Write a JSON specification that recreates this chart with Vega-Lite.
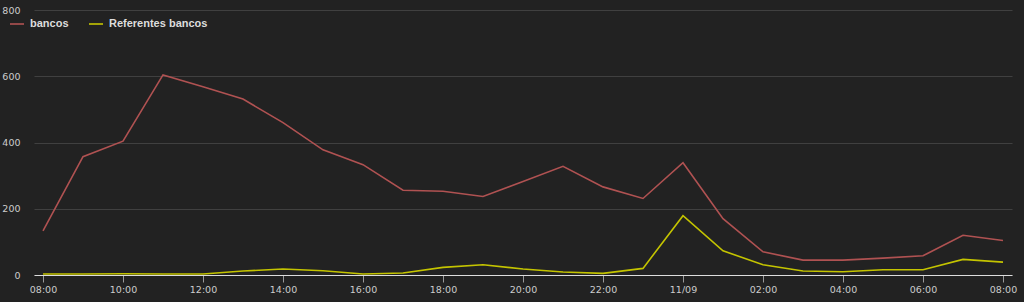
{
  "$schema": "https://vega.github.io/schema/vega-lite/v6.json",
  "width": 978,
  "height": 265,
  "autosize": {"type": "none"},
  "padding": {"left": 34, "top": 10, "right": 12, "bottom": 27},
  "background": "#222222",
  "config": {
    "view": {"stroke": null},
    "axis": {"labelFont": "DejaVu Sans", "labelFontSize": 9.5, "labelColor": "#cccccc"}
  },
  "data": {
    "values": [
      {"t": "2013-09-10T08:00:00Z", "s": "bancos", "v": 133},
      {"t": "2013-09-10T09:00:00Z", "s": "bancos", "v": 357},
      {"t": "2013-09-10T10:00:00Z", "s": "bancos", "v": 404},
      {"t": "2013-09-10T11:00:00Z", "s": "bancos", "v": 604},
      {"t": "2013-09-10T12:00:00Z", "s": "bancos", "v": 568},
      {"t": "2013-09-10T13:00:00Z", "s": "bancos", "v": 531},
      {"t": "2013-09-10T14:00:00Z", "s": "bancos", "v": 460},
      {"t": "2013-09-10T15:00:00Z", "s": "bancos", "v": 378},
      {"t": "2013-09-10T16:00:00Z", "s": "bancos", "v": 333},
      {"t": "2013-09-10T17:00:00Z", "s": "bancos", "v": 256},
      {"t": "2013-09-10T18:00:00Z", "s": "bancos", "v": 253},
      {"t": "2013-09-10T19:00:00Z", "s": "bancos", "v": 237},
      {"t": "2013-09-10T20:00:00Z", "s": "bancos", "v": 282},
      {"t": "2013-09-10T21:00:00Z", "s": "bancos", "v": 328},
      {"t": "2013-09-10T22:00:00Z", "s": "bancos", "v": 266},
      {"t": "2013-09-10T23:00:00Z", "s": "bancos", "v": 231},
      {"t": "2013-09-11T00:00:00Z", "s": "bancos", "v": 339},
      {"t": "2013-09-11T01:00:00Z", "s": "bancos", "v": 170},
      {"t": "2013-09-11T02:00:00Z", "s": "bancos", "v": 70},
      {"t": "2013-09-11T03:00:00Z", "s": "bancos", "v": 45},
      {"t": "2013-09-11T04:00:00Z", "s": "bancos", "v": 45},
      {"t": "2013-09-11T05:00:00Z", "s": "bancos", "v": 51},
      {"t": "2013-09-11T06:00:00Z", "s": "bancos", "v": 58},
      {"t": "2013-09-11T07:00:00Z", "s": "bancos", "v": 120},
      {"t": "2013-09-11T08:00:00Z", "s": "bancos", "v": 104},
      {"t": "2013-09-10T08:00:00Z", "s": "Referentes bancos", "v": 3},
      {"t": "2013-09-10T09:00:00Z", "s": "Referentes bancos", "v": 3},
      {"t": "2013-09-10T10:00:00Z", "s": "Referentes bancos", "v": 4},
      {"t": "2013-09-10T11:00:00Z", "s": "Referentes bancos", "v": 3},
      {"t": "2013-09-10T12:00:00Z", "s": "Referentes bancos", "v": 3},
      {"t": "2013-09-10T13:00:00Z", "s": "Referentes bancos", "v": 12},
      {"t": "2013-09-10T14:00:00Z", "s": "Referentes bancos", "v": 18},
      {"t": "2013-09-10T15:00:00Z", "s": "Referentes bancos", "v": 13},
      {"t": "2013-09-10T16:00:00Z", "s": "Referentes bancos", "v": 3},
      {"t": "2013-09-10T17:00:00Z", "s": "Referentes bancos", "v": 6},
      {"t": "2013-09-10T18:00:00Z", "s": "Referentes bancos", "v": 23},
      {"t": "2013-09-10T19:00:00Z", "s": "Referentes bancos", "v": 31},
      {"t": "2013-09-10T20:00:00Z", "s": "Referentes bancos", "v": 18},
      {"t": "2013-09-10T21:00:00Z", "s": "Referentes bancos", "v": 9},
      {"t": "2013-09-10T22:00:00Z", "s": "Referentes bancos", "v": 5},
      {"t": "2013-09-10T23:00:00Z", "s": "Referentes bancos", "v": 20},
      {"t": "2013-09-11T00:00:00Z", "s": "Referentes bancos", "v": 179},
      {"t": "2013-09-11T01:00:00Z", "s": "Referentes bancos", "v": 73},
      {"t": "2013-09-11T02:00:00Z", "s": "Referentes bancos", "v": 31},
      {"t": "2013-09-11T03:00:00Z", "s": "Referentes bancos", "v": 12},
      {"t": "2013-09-11T04:00:00Z", "s": "Referentes bancos", "v": 10},
      {"t": "2013-09-11T05:00:00Z", "s": "Referentes bancos", "v": 16},
      {"t": "2013-09-11T06:00:00Z", "s": "Referentes bancos", "v": 16},
      {"t": "2013-09-11T07:00:00Z", "s": "Referentes bancos", "v": 47},
      {"t": "2013-09-11T08:00:00Z", "s": "Referentes bancos", "v": 39}
    ]
  },
  "mark": {"type": "line", "strokeWidth": 1.6},
  "encoding": {
    "x": {
      "field": "t",
      "type": "temporal",
      "scale": {
        "type": "utc",
        "nice": false,
        "domain": [1378799190000, 1378887210000]
      },
      "axis": {
        "title": null,
        "grid": false,
        "values": [1378800000000, 1378807200000, 1378814400000, 1378821600000, 1378828800000, 1378836000000, 1378843200000, 1378850400000, 1378857600000, 1378864800000, 1378872000000, 1378879200000, 1378886400000],
        "labelExpr": "utcFormat(datum.value, '%H') == '00' ? utcFormat(datum.value, '%d/%m') : utcFormat(datum.value, '%H:%M')",
        "domainColor": "#dddddd",
        "tickColor": "#999999",
        "tickSize": 7,
        "labelPadding": 2
      }
    },
    "y": {
      "field": "v",
      "type": "quantitative",
      "scale": {"domain": [0, 800], "nice": false},
      "axis": {
        "title": null,
        "values": [0, 200, 400, 600, 800],
        "domain": false,
        "ticks": false,
        "labelPadding": 14,
        "gridColor": "#404040"
      }
    },
    "color": {
      "field": "s",
      "type": "nominal",
      "scale": {"domain": ["bancos", "Referentes bancos"], "range": ["#b05252", "#c4c400"]},
      "legend": {
        "title": null,
        "orient": "none",
        "legendX": -25,
        "legendY": 6,
        "direction": "horizontal",
        "symbolType": "stroke",
        "symbolSize": 196,
        "symbolStrokeWidth": 1.6,
        "labelFont": "Liberation Sans",
        "labelFontWeight": "bold",
        "labelFontSize": 11,
        "labelColor": "#dddddd",
        "labelOffset": 5,
        "columnPadding": 16
      }
    }
  }
}
